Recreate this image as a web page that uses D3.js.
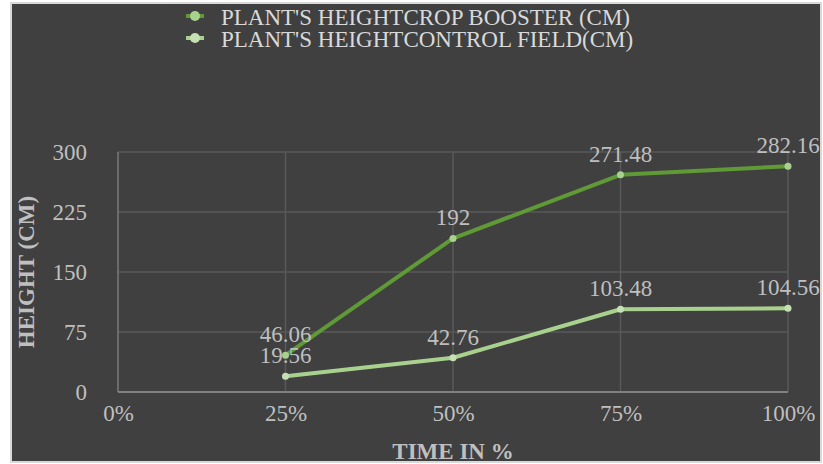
<!DOCTYPE html>
<html>
<head>
<meta charset="utf-8">
<script src="https://cdn.jsdelivr.net/npm/d3@7"></script>
</head>
<body style="margin:0">
<svg id="chart" width="823" height="464"></svg>
<script>
// Plant height measured over the growing period
const timeLabels = ["0%", "25%", "50%", "75%", "100%"];
const timePoints = [25, 50, 75, 100];
const boosterHeights = [46.06, 192, 271.48, 282.16];
const controlHeights = [19.56, 42.76, 103.48, 104.56];
const yTicks = [0, 75, 150, 225, 300];
const seriesNames = ["PLANT'S HEIGHTCROP BOOSTER (CM)", "PLANT'S HEIGHTCONTROL FIELD(CM)"];

const FONT = '"Liberation Serif"';
const FS = 23;
const svg = d3.select("#chart");

// chart panel
svg.append("rect")
  .attr("x", 11).attr("y", 3).attr("width", 810).attr("height", 459)
  .attr("fill", "#404040").attr("stroke", "#d9d9d9").attr("stroke-width", 2);

const plot = { left: 118, right: 788, top: 152, bottom: 392 };

const x = d3.scaleLinear().domain([0, 100]).range([plot.left, plot.right]);
const y = d3.scaleLinear().domain([0, 300]).range([plot.bottom, plot.top]);

// gridlines
const gridColor = "#595959";
svg.append("g").selectAll("line")
  .data(yTicks.slice(1))
  .join("line")
  .attr("x1", plot.left).attr("x2", plot.right)
  .attr("y1", d => y(d)).attr("y2", d => y(d))
  .attr("stroke", gridColor).attr("stroke-width", 1.5);

svg.append("g").selectAll("line")
  .data([0, 25, 50, 75, 100])
  .join("line")
  .attr("x1", d => x(d)).attr("x2", d => x(d))
  .attr("y1", plot.top).attr("y2", plot.bottom)
  .attr("stroke", d => d === 0 ? "#7a7a7a" : gridColor).attr("stroke-width", 1.5);

// x axis baseline
svg.append("line")
  .attr("x1", plot.left).attr("x2", plot.right)
  .attr("y1", y(0)).attr("y2", y(0))
  .attr("stroke", "#808080").attr("stroke-width", 2);

// axis labels
const yAxis = d3.axisLeft(y).tickValues(yTicks).tickSize(0).tickPadding(31);
const yg = svg.append("g").attr("transform", `translate(${plot.left},0)`).call(yAxis)
  .attr("font-size", FS);
yg.select(".domain").remove();
yg.selectAll("text").attr("fill", "#bfbfbf").style("font-family", FONT);

const xAxis = d3.axisBottom(x).tickValues([0, 25, 50, 75, 100])
  .tickFormat((d, i) => timeLabels[i]).tickSize(0).tickPadding(13);
const xg = svg.append("g").attr("transform", `translate(0,${plot.bottom})`).call(xAxis)
  .attr("font-size", FS);
xg.select(".domain").remove();
xg.selectAll("text").attr("fill", "#bfbfbf").style("font-family", FONT);

// axis titles
svg.append("text")
  .attr("x", (plot.left + plot.right) / 2).attr("y", 459)
  .attr("text-anchor", "middle")
  .style("font-family", FONT).attr("font-size", FS).attr("font-weight", "bold")
  .attr("fill", "#bfbfbf")
  .text("TIME IN %");

svg.append("text")
  .attr("transform", `translate(34,${(plot.top + plot.bottom) / 2}) rotate(-90)`)
  .attr("text-anchor", "middle")
  .style("font-family", FONT).attr("font-size", FS).attr("font-weight", "bold")
  .attr("fill", "#bfbfbf")
  .text("HEIGHT (CM)");

// series
const series = [
  { name: seriesNames[0], values: boosterHeights, line: "#5f9a36", marker: "#a9d18e" },
  { name: seriesNames[1], values: controlHeights, line: "#a9d18e", marker: "#c5e0b4" }
];

const lineGen = d3.line().x(d => x(d.t)).y(d => y(d.v));

series.forEach(s => {
  const pts = timePoints.map((t, i) => ({ t, v: s.values[i] }));
  svg.append("path")
    .datum(pts)
    .attr("d", lineGen)
    .attr("fill", "none")
    .attr("stroke", s.line)
    .attr("stroke-width", 4)
    .attr("stroke-linejoin", "round");
  svg.append("g").selectAll("circle")
    .data(pts)
    .join("circle")
    .attr("cx", d => x(d.t)).attr("cy", d => y(d.v))
    .attr("r", 3.5)
    .attr("fill", s.marker);
  svg.append("g").selectAll("text")
    .data(pts)
    .join("text")
    .attr("x", d => x(d.t)).attr("y", d => y(d.v) - 13)
    .attr("text-anchor", "middle")
    .style("font-family", FONT).attr("font-size", FS)
    .attr("fill", "#bfbfbf")
    .text(d => String(d.v));
});

// legend
const legend = svg.append("g");
series.forEach((s, i) => {
  const base = 25 + i * 22;
  const cy = base - 9;
  legend.append("line")
    .attr("x1", 186).attr("x2", 204).attr("y1", cy).attr("y2", cy)
    .attr("stroke", s.line).attr("stroke-width", 4);
  legend.append("circle")
    .attr("cx", 195).attr("cy", cy).attr("r", 5)
    .attr("fill", s.marker);
  legend.append("text")
    .attr("x", 221).attr("y", base)
    .style("font-family", FONT).attr("font-size", FS)
    .attr("fill", "#d9d9d9")
    .text(s.name);
});
</script>
</body>
</html>
